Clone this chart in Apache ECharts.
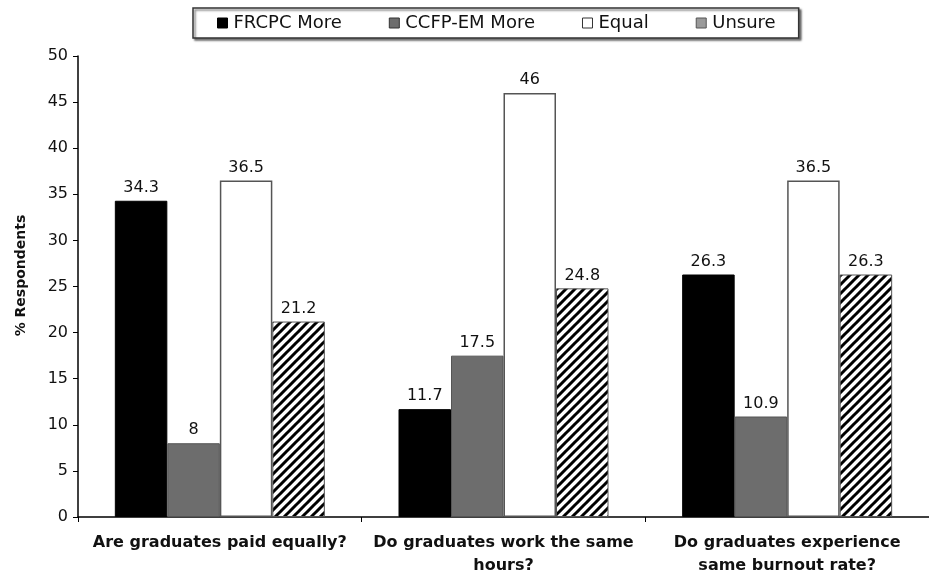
<!DOCTYPE html>
<html>
<head>
<meta charset="utf-8">
<script src="https://cdn.jsdelivr.net/npm/echarts@6/dist/echarts.min.js"></script>
<style>
html,body{margin:0;padding:0;background:#fff;}
#chart{width:929px;height:584px;}
</style>
</head>
<body>
<div id="chart"></div>
<script>
const categories = ['Are graduates paid equally?', 'Do graduates work the same\nhours?', 'Do graduates experience\nsame burnout rate?'];
const seriesNames = ['FRCPC More', 'CCFP-EM More', 'Equal', 'Unsure'];
const frcpcMore = [34.3, 11.7, 26.3];
const ccfpMore = [8, 17.5, 10.9];
const equal = [36.5, 46, 36.5];
const unsure = [21.2, 24.8, 26.3];
const yTicks = [0, 5, 10, 15, 20, 25, 30, 35, 40, 45, 50];

function hatch() {
  const c = document.createElement('canvas');
  const s = 9;
  c.width = s; c.height = s;
  const ctx = c.getContext('2d');
  ctx.fillStyle = '#fff';
  ctx.fillRect(0, 0, s, s);
  ctx.strokeStyle = '#000';
  ctx.lineWidth = 3;
  ctx.beginPath();
  for (let k = -1; k <= 1; k++) {
    ctx.moveTo(-1 + k * s, s + 1);
    ctx.lineTo(s + 1 + k * s, -1);
  }
  ctx.stroke();
  return c;
}

const chart = echarts.init(document.getElementById('chart'), null, {renderer: 'canvas'});
const font = 'DejaVu Sans, Liberation Sans, Arial, sans-serif';
const label = {show: true, position: 'top', color: '#111', fontSize: 16, fontFamily: font, distance: 5};
const styles = [
  {color: '#000', borderColor: '#000', borderWidth: 1},
  {color: '#6d6d6d', borderColor: '#555', borderWidth: 1},
  {color: '#fff', borderColor: '#555', borderWidth: 1.5},
  {color: {image: hatch(), repeat: 'repeat'}, borderColor: '#555', borderWidth: 1}
];
const legendIcons = [
  {color: '#000', borderColor: '#000', borderWidth: 1},
  {color: '#6d6d6d', borderColor: '#333', borderWidth: 1},
  {color: '#fff', borderColor: '#333', borderWidth: 1},
  {color: '#9a9a9a', borderColor: '#555', borderWidth: 1}
];
const data = [frcpcMore, ccfpMore, equal, unsure];

chart.setOption({
  animation: false,
  backgroundColor: '#fff',
  legend: {
    top: 8, left: 193,
    padding: [6, 23, 6, 24],
    itemGap: 47,
    borderColor: '#333', borderWidth: 1.5,
    shadowColor: 'rgba(0,0,0,0.5)', shadowOffsetX: 2, shadowOffsetY: 2, shadowBlur: 2,
    backgroundColor: '#fff',
    itemWidth: 10, itemHeight: 10,
    textStyle: {fontSize: 18, fontFamily: font, color: '#111', padding: [0, 0, 0, 1]},
    data: seriesNames.map((n, i) => ({name: n, icon: 'rect', itemStyle: legendIcons[i]}))
  },
  grid: {left: 78, top: 56, bottom: 67, width: 862, containLabel: false},
  xAxis: {
    type: 'category',
    data: categories,
    axisLine: {lineStyle: {color: '#000', width: 1.5}},
    axisTick: {show: true, length: 5, inside: false, lineStyle: {color: '#000'}},
    axisLabel: {fontSize: 16, fontWeight: 'bold', fontFamily: font, color: '#111', margin: 14, lineHeight: 23, interval: 0}
  },
  yAxis: {
    type: 'value',
    min: yTicks[0], max: yTicks[yTicks.length - 1], interval: 5,
    name: '% Respondents',
    nameLocation: 'middle',
    nameGap: 50,
    nameTextStyle: {fontSize: 14, fontWeight: 'bold', fontFamily: font, color: '#111', padding: [0, 0, 0, 22]},
    axisLine: {show: true, lineStyle: {color: '#000', width: 1.5}},
    axisTick: {show: true, length: 5, lineStyle: {color: '#000'}},
    axisLabel: {fontSize: 16, fontFamily: font, color: '#111', margin: 10},
    splitLine: {show: false}
  },
  series: seriesNames.map((n, i) => ({
    name: n,
    type: 'bar',
    data: data[i],
    barWidth: 52.5,
    barGap: '0%',
    itemStyle: styles[i],
    label: label
  }))
});
</script>
</body>
</html>
